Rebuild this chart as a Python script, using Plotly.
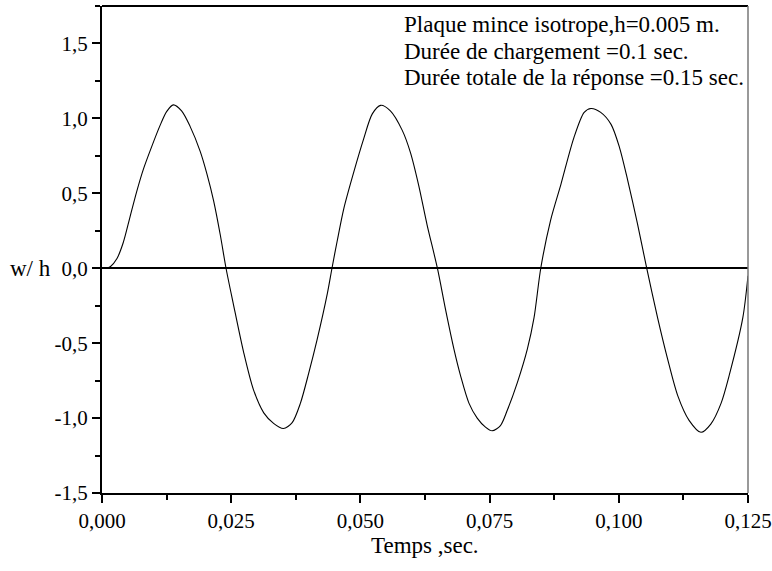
import plotly.graph_objects as go

# Time (s) and normalised deflection w/h
t = [0.0000, 0.0009, 0.0016, 0.0029, 0.0041, 0.0054, 0.0067, 0.0080, 0.0096, 0.0112,
     0.0125, 0.0138, 0.0154, 0.0170, 0.0190, 0.0203, 0.0216, 0.0229, 0.0240, 0.0254,
     0.0274, 0.0293, 0.0313, 0.0332, 0.0351, 0.0368, 0.0384, 0.0400, 0.0416, 0.0436,
     0.0445, 0.0455, 0.0468, 0.0487, 0.0506, 0.0523, 0.0539, 0.0558, 0.0581, 0.0597,
     0.0613, 0.0629, 0.0649, 0.0665, 0.0681, 0.0694, 0.0710, 0.0726, 0.0742, 0.0755,
     0.0771, 0.0784, 0.0804, 0.0823, 0.0836, 0.0849, 0.0868, 0.0888, 0.0913, 0.0933,
     0.0946, 0.0965, 0.0985, 0.1001, 0.1017, 0.1036, 0.1054, 0.1075, 0.1094, 0.1114,
     0.1136, 0.1159, 0.1178, 0.1198, 0.1214, 0.1240, 0.1250]
w_h = [0.000, 0.000, 0.010, 0.065, 0.170, 0.340, 0.510, 0.660, 0.810, 0.950,
       1.045, 1.090, 1.050, 0.950, 0.780, 0.630, 0.450, 0.220, 0.000, -0.236,
       -0.560, -0.810, -0.965, -1.035, -1.070, -1.030, -0.900, -0.700, -0.480, -0.170,
       0.000, 0.180, 0.400, 0.640, 0.860, 1.030, 1.087, 1.050, 0.920, 0.770,
       0.550, 0.290, 0.000, -0.280, -0.540, -0.720, -0.900, -1.000, -1.060, -1.085,
       -1.050, -0.950, -0.760, -0.540, -0.330, 0.000, 0.320, 0.560, 0.870, 1.040,
       1.066, 1.040, 0.960, 0.810, 0.590, 0.300, 0.000, -0.330, -0.600, -0.850,
       -1.015, -1.095, -1.040, -0.900, -0.710, -0.330, -0.050]

x_tickvals = [0.0, 0.025, 0.05, 0.075, 0.1, 0.125]
x_ticktext = ["0,000", "0,025", "0,050", "0,075", "0,100", "0,125"]
y_tickvals = [-1.5, -1.0, -0.5, 0.0, 0.5, 1.0, 1.5]
y_ticktext = ["-1,5", "-1,0", "-0,5", "0,0", "0,5", "1,0", "1,5"]

info_lines = ["Plaque mince isotrope,h=0.005 m.",
              "Durée de chargement =0.1 sec.",
              "Durée totale de la réponse =0.15 sec."]
info_y = [0.961, 0.906, 0.854]

FONT = "Liberation Serif"

fig = go.Figure()
fig.add_trace(go.Scatter(x=t, y=w_h, mode="lines",
                         line=dict(color="black", width=1.1, shape="spline", smoothing=0.8),
                         hoverinfo="skip"))

annotations = [
    dict(text=line, xref="paper", yref="paper", x=0.4644, y=yy,
         xanchor="left", yanchor="middle", align="left", showarrow=False,
         font=dict(family=FONT, size=23))
    for line, yy in zip(info_lines, info_y)
]
annotations += [
    dict(text="w/ h", xref="paper", yref="y", x=-0.076, y=0.0, xanchor="right",
         yanchor="middle", showarrow=False, font=dict(family=FONT, size=23)),
    dict(text="Temps ,sec.", xref="paper", yref="paper", x=0.5, y=-0.107,
         xanchor="center", yanchor="middle", showarrow=False, font=dict(family=FONT, size=23)),
]

fig.update_layout(
    width=772, height=571,
    margin=dict(l=102, r=24, t=6, b=78, autoexpand=False),
    paper_bgcolor="white", plot_bgcolor="white",
    showlegend=False,
    font=dict(family=FONT, size=21, color="black"),
    xaxis=dict(range=[0, 0.125], tickvals=x_tickvals, ticktext=x_ticktext,
               showgrid=False, zeroline=False, showline=True, linecolor="black", linewidth=2,
               ticks="outside", ticklen=8, tickwidth=2, tickcolor="black",
               minor=dict(dtick=0.0125, ticks="outside", ticklen=5, tickwidth=2, tickcolor="black"),
               tickfont=dict(family=FONT, size=21), automargin=False),
    yaxis=dict(range=[-1.5, 1.75], tickvals=y_tickvals, ticktext=y_ticktext,
               showgrid=False, zeroline=True, zerolinecolor="black", zerolinewidth=2,
               showline=True, linecolor="black", linewidth=2,
               ticks="outside", ticklen=8, tickwidth=2, tickcolor="black",
               minor=dict(dtick=0.25, tick0=0, ticks="outside", ticklen=5, tickwidth=2, tickcolor="black"),
               tickfont=dict(family=FONT, size=21), automargin=False),
    shapes=[
        dict(type="line", xref="paper", yref="paper", x0=0, x1=1, y0=1, y1=1,
             line=dict(color="black", width=2)),
        dict(type="line", xref="paper", yref="paper", x0=1, x1=1, y0=0, y1=1,
             line=dict(color="#777777", width=1.5)),
    ],
    annotations=annotations,
)

fig.write_html("out.html", config={"displayModeBar": False},
               post_script="document.body.style.margin='0';document.body.style.overflow='hidden';")
